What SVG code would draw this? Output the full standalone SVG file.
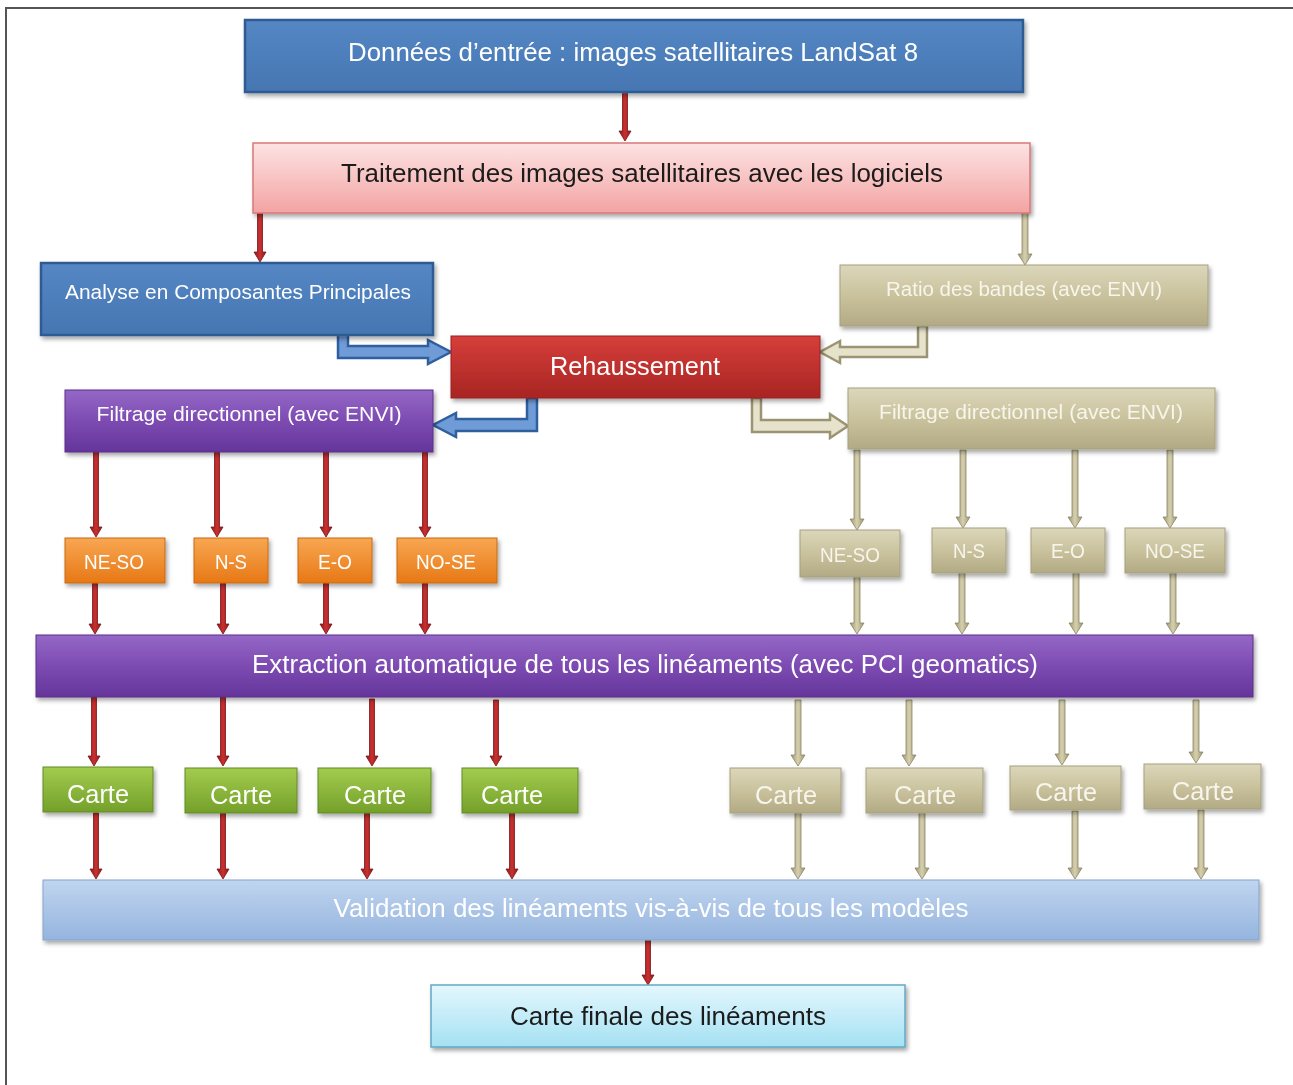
<svg xmlns="http://www.w3.org/2000/svg" width="1293" height="1085" viewBox="0 0 1293 1085">
<defs>
  <filter id="sh" x="-10%" y="-20%" width="120%" height="150%">
    <feDropShadow dx="2" dy="3" stdDeviation="2" flood-color="#000" flood-opacity="0.35"/>
  </filter>
  <linearGradient id="gBlue" x1="0" y1="0" x2="0" y2="1"><stop offset="0" stop-color="#5487c4"/><stop offset="1" stop-color="#4676b2"/></linearGradient>
  <linearGradient id="gPink" x1="0" y1="0" x2="0" y2="1"><stop offset="0" stop-color="#fde3e3"/><stop offset="1" stop-color="#f3a3a3"/></linearGradient>
  <linearGradient id="gKhaki" x1="0" y1="0" x2="0" y2="1"><stop offset="0" stop-color="#dcd7bb"/><stop offset="0.5" stop-color="#c9c29d"/><stop offset="1" stop-color="#b1aa84"/></linearGradient>
  <linearGradient id="gRed" x1="0" y1="0" x2="0" y2="1"><stop offset="0" stop-color="#d63e3a"/><stop offset="1" stop-color="#a82523"/></linearGradient>
  <linearGradient id="gPurple" x1="0" y1="0" x2="0" y2="1"><stop offset="0" stop-color="#9468c6"/><stop offset="0.5" stop-color="#7d4bb2"/><stop offset="1" stop-color="#64359a"/></linearGradient>
  <linearGradient id="gOrange" x1="0" y1="0" x2="0" y2="1"><stop offset="0" stop-color="#f8a752"/><stop offset="1" stop-color="#e77815"/></linearGradient>
  <linearGradient id="gGreen" x1="0" y1="0" x2="0" y2="1"><stop offset="0" stop-color="#a3cc4e"/><stop offset="1" stop-color="#74a02a"/></linearGradient>
  <linearGradient id="gVal" x1="0" y1="0" x2="0" y2="1"><stop offset="0" stop-color="#c0d5ef"/><stop offset="1" stop-color="#95b4de"/></linearGradient>
  <linearGradient id="gFinal" x1="0" y1="0" x2="0" y2="1"><stop offset="0" stop-color="#e4f7fd"/><stop offset="1" stop-color="#a4e1f3"/></linearGradient>
  <linearGradient id="gRedArr" x1="0" y1="0" x2="1" y2="0"><stop offset="0" stop-color="#8e1a1a"/><stop offset="0.5" stop-color="#c93030"/><stop offset="1" stop-color="#8e1a1a"/></linearGradient>
  <linearGradient id="gKhArr" x1="0" y1="0" x2="1" y2="0"><stop offset="0" stop-color="#9c966f"/><stop offset="0.5" stop-color="#d6d0b0"/><stop offset="1" stop-color="#9c966f"/></linearGradient>
</defs>
<style>
  text { font-family: "Liberation Sans", Arial, sans-serif; text-anchor: middle; }
  .w { fill: #ffffff; }
  .kt { fill: #f7f5ec; }
  .d { fill: #1a1a1a; }
  .big { font-size: 26px; }
  .mid { font-size: 20.5px; }
  .box { filter: url(#sh); }
  .blue { fill: url(#gBlue); stroke: #2f5c92; stroke-width: 2.5; }
  .pink { fill: url(#gPink); stroke: #d87878; stroke-width: 1.5; }
  .khaki { fill: url(#gKhaki); stroke: #a6a07c; stroke-width: 1; }
  .red { fill: url(#gRed); stroke: #9a2020; stroke-width: 1; }
  .purple { fill: url(#gPurple); stroke: #5a2e8a; stroke-width: 1; }
  .orange { fill: url(#gOrange); stroke: #c8680f; stroke-width: 1; }
  .green { fill: url(#gGreen); stroke: #62892a; stroke-width: 1; }
  .val { fill: url(#gVal); stroke: #84a3cc; stroke-width: 1; }
  .final { fill: url(#gFinal); stroke: #62a8c4; stroke-width: 1.5; }
  .ra { fill: url(#gRedArr); stroke: #7a1515; stroke-width: 0.8; }
  .ka { fill: url(#gKhArr); stroke: #8a8563; stroke-width: 0.8; }
  .ba { fill: #6f9bd6; stroke: #2f5f9e; stroke-width: 2.5; }
  .kb { fill: #e6e2cc; stroke: #9a9472; stroke-width: 2.5; }
</style>

<rect x="6" y="8" width="1300" height="1100" fill="#ffffff" stroke="#555555" stroke-width="2"/>

<g id="connectors">
  <!-- red arrows -->
  <path class="ra" d="M622.5 92 H627.5 V131 H631 L625 141 L619 131 H622.5 Z"/>
  <path class="ra" d="M257.5 213 H262.5 V252 H266 L260 262 L254 252 H257.5 Z"/>
  <path class="ra" d="M93.5 452 H98.5 V527 H102 L96 537 L90 527 H93.5 Z"/>
  <path class="ra" d="M214.5 452 H219.5 V527 H223 L217 537 L211 527 H214.5 Z"/>
  <path class="ra" d="M323.5 452 H328.5 V527 H332 L326 537 L320 527 H323.5 Z"/>
  <path class="ra" d="M422.5 452 H427.5 V527 H431 L425 537 L419 527 H422.5 Z"/>
  <path class="ra" d="M92.5 583 H97.5 V624 H101 L95 634 L89 624 H92.5 Z"/>
  <path class="ra" d="M220.5 583 H225.5 V624 H229 L223 634 L217 624 H220.5 Z"/>
  <path class="ra" d="M323.5 583 H328.5 V624 H332 L326 634 L320 624 H323.5 Z"/>
  <path class="ra" d="M422.5 583 H427.5 V624 H431 L425 634 L419 624 H422.5 Z"/>
  <path class="ra" d="M91.5 697 H96.5 V756 H100 L94 766 L88 756 H91.5 Z"/>
  <path class="ra" d="M220.5 697 H225.5 V756 H229 L223 766 L217 756 H220.5 Z"/>
  <path class="ra" d="M369.5 699 H374.5 V756 H378 L372 766 L366 756 H369.5 Z"/>
  <path class="ra" d="M493.5 700 H498.5 V756 H502 L496 766 L490 756 H493.5 Z"/>
  <path class="ra" d="M93.5 813 H98.5 V869 H102 L96 879 L90 869 H93.5 Z"/>
  <path class="ra" d="M220.5 813 H225.5 V869 H229 L223 879 L217 869 H220.5 Z"/>
  <path class="ra" d="M364.5 813 H369.5 V869 H373 L367 879 L361 869 H364.5 Z"/>
  <path class="ra" d="M509.5 813 H514.5 V869 H518 L512 879 L506 869 H509.5 Z"/>
  <path class="ra" d="M645.5 940 H650.5 V975 H654 L648 985 L642 975 H645.5 Z"/>
  <!-- khaki arrows -->
  <path class="ka" d="M1022 213 H1028 V254 H1032 L1025 265 L1018 254 H1022 Z"/>
  <path class="ka" d="M854 450 H860 V519 H864 L857 530 L850 519 H854 Z"/>
  <path class="ka" d="M960 450 H966 V517 H970 L963 528 L956 517 H960 Z"/>
  <path class="ka" d="M1072 450 H1078 V517 H1082 L1075 528 L1068 517 H1072 Z"/>
  <path class="ka" d="M1167 450 H1173 V517 H1177 L1170 528 L1163 517 H1167 Z"/>
  <path class="ka" d="M854 577 H860 V623 H864 L857 634 L850 623 H854 Z"/>
  <path class="ka" d="M959 573 H965 V623 H969 L962 634 L955 623 H959 Z"/>
  <path class="ka" d="M1073 573 H1079 V623 H1083 L1076 634 L1069 623 H1073 Z"/>
  <path class="ka" d="M1170 573 H1176 V623 H1180 L1173 634 L1166 623 H1170 Z"/>
  <path class="ka" d="M795 700 H801 V755 H805 L798 766 L791 755 H795 Z"/>
  <path class="ka" d="M906 700 H912 V755 H916 L909 766 L902 755 H906 Z"/>
  <path class="ka" d="M1059 700 H1065 V754 H1069 L1062 765 L1055 754 H1059 Z"/>
  <path class="ka" d="M1193 700 H1199 V752 H1203 L1196 763 L1189 752 H1193 Z"/>
  <path class="ka" d="M795 813 H801 V868 H805 L798 879 L791 868 H795 Z"/>
  <path class="ka" d="M919 813 H925 V868 H929 L922 879 L915 868 H919 Z"/>
  <path class="ka" d="M1072 811 H1078 V868 H1082 L1075 879 L1068 868 H1072 Z"/>
  <path class="ka" d="M1198 810 H1204 V868 H1208 L1201 879 L1194 868 H1198 Z"/>
  <!-- elbow arrows -->
  <path class="ba" d="M338 324 H348 V346 H428 V340 L451 352 L428 364 V358 H338 Z"/>
  <path class="ba" d="M537 398 V431 H456 V437 L433 425 L456 413 V419 H527 V398 Z"/>
  <path class="kb" d="M927 326 V357 H840 V363 L820 352 L840 341 V347 H918 V326 Z"/>
  <path class="kb" d="M752 398 H761 V420 H830 V414 L848 426 L830 438 V432 H752 Z"/>
</g>

<g id="n-input" class="box"><rect class="blue" x="245" y="20" width="778" height="72"/>
  <text class="w big" x="633" y="61" textLength="570" lengthAdjust="spacingAndGlyphs">Données d’entrée : images satellitaires LandSat 8</text></g>
<g id="n-traitement" class="box"><rect class="pink" x="253" y="143" width="777" height="70"/>
  <text class="d big" x="642" y="182" textLength="602" lengthAdjust="spacingAndGlyphs">Traitement des images satellitaires avec les logiciels</text></g>
<g id="n-acp" class="box"><rect class="blue" x="41" y="263" width="392" height="72"/>
  <text class="w mid" x="238" y="299" textLength="346" lengthAdjust="spacingAndGlyphs">Analyse en Composantes Principales</text></g>
<g id="n-ratio" class="box"><rect class="khaki" x="840" y="265" width="368" height="61"/>
  <text class="kt mid" x="1024" y="296" textLength="276" lengthAdjust="spacingAndGlyphs">Ratio des bandes (avec ENVI)</text></g>
<g id="n-rehaussement" class="box"><rect class="red" x="451" y="336" width="369" height="62"/>
  <text class="w big" x="635" y="375" textLength="170" lengthAdjust="spacingAndGlyphs">Rehaussement</text></g>
<g id="n-filtrage-left" class="box"><rect class="purple" x="65" y="390" width="368" height="62"/>
  <text class="w mid" x="249" y="421" textLength="305" lengthAdjust="spacingAndGlyphs">Filtrage directionnel (avec ENVI)</text></g>
<g id="n-filtrage-right" class="box"><rect class="khaki" x="848" y="388" width="367" height="61"/>
  <text class="kt mid" x="1031" y="419" textLength="304" lengthAdjust="spacingAndGlyphs">Filtrage directionnel (avec ENVI)</text></g>

<g id="n-l-neso" class="box"><rect class="orange" x="65" y="538" width="100" height="45"/>
  <text class="w mid" x="114" y="569" textLength="60" lengthAdjust="spacingAndGlyphs">NE-SO</text></g>
<g id="n-l-ns" class="box"><rect class="orange" x="194" y="538" width="74" height="45"/>
  <text class="w mid" x="231" y="569" textLength="32" lengthAdjust="spacingAndGlyphs">N-S</text></g>
<g id="n-l-eo" class="box"><rect class="orange" x="298" y="538" width="74" height="45"/>
  <text class="w mid" x="335" y="569" textLength="34" lengthAdjust="spacingAndGlyphs">E-O</text></g>
<g id="n-l-nose" class="box"><rect class="orange" x="397" y="538" width="100" height="45"/>
  <text class="w mid" x="446" y="569" textLength="60" lengthAdjust="spacingAndGlyphs">NO-SE</text></g>

<g id="n-r-neso" class="box"><rect class="khaki" x="800" y="530" width="100" height="47"/>
  <text class="kt mid" x="850" y="562" textLength="60" lengthAdjust="spacingAndGlyphs">NE-SO</text></g>
<g id="n-r-ns" class="box"><rect class="khaki" x="932" y="528" width="74" height="45"/>
  <text class="kt mid" x="969" y="558" textLength="32" lengthAdjust="spacingAndGlyphs">N-S</text></g>
<g id="n-r-eo" class="box"><rect class="khaki" x="1031" y="528" width="74" height="45"/>
  <text class="kt mid" x="1068" y="558" textLength="34" lengthAdjust="spacingAndGlyphs">E-O</text></g>
<g id="n-r-nose" class="box"><rect class="khaki" x="1125" y="528" width="100" height="45"/>
  <text class="kt mid" x="1175" y="558" textLength="60" lengthAdjust="spacingAndGlyphs">NO-SE</text></g>

<g id="n-extraction" class="box"><rect class="purple" x="36" y="635" width="1217" height="62"/>
  <text class="w big" x="645" y="673" textLength="786" lengthAdjust="spacingAndGlyphs">Extraction automatique de tous les linéaments (avec PCI geomatics)</text></g>

<g id="n-g-carte1" class="box"><rect class="green" x="43" y="767" width="110" height="45"/>
  <text class="w big" x="98" y="803" textLength="62" lengthAdjust="spacingAndGlyphs">Carte</text></g>
<g id="n-g-carte2" class="box"><rect class="green" x="185" y="768" width="112" height="45"/>
  <text class="w big" x="241" y="804" textLength="62" lengthAdjust="spacingAndGlyphs">Carte</text></g>
<g id="n-g-carte3" class="box"><rect class="green" x="318" y="768" width="113" height="45"/>
  <text class="w big" x="375" y="804" textLength="62" lengthAdjust="spacingAndGlyphs">Carte</text></g>
<g id="n-g-carte4" class="box"><rect class="green" x="462" y="768" width="116" height="45"/>
  <text class="w big" x="512" y="804" textLength="62" lengthAdjust="spacingAndGlyphs">Carte</text></g>

<g id="n-k-carte1" class="box"><rect class="khaki" x="730" y="768" width="111" height="45"/>
  <text class="kt big" x="786" y="804" textLength="62" lengthAdjust="spacingAndGlyphs">Carte</text></g>
<g id="n-k-carte2" class="box"><rect class="khaki" x="866" y="768" width="117" height="45"/>
  <text class="kt big" x="925" y="804" textLength="62" lengthAdjust="spacingAndGlyphs">Carte</text></g>
<g id="n-k-carte3" class="box"><rect class="khaki" x="1010" y="766" width="111" height="44"/>
  <text class="kt big" x="1066" y="801" textLength="62" lengthAdjust="spacingAndGlyphs">Carte</text></g>
<g id="n-k-carte4" class="box"><rect class="khaki" x="1144" y="764" width="117" height="45"/>
  <text class="kt big" x="1203" y="800" textLength="62" lengthAdjust="spacingAndGlyphs">Carte</text></g>

<g id="n-validation" class="box"><rect class="val" x="43" y="880" width="1216" height="60"/>
  <text class="w big" x="651" y="917" textLength="635" lengthAdjust="spacingAndGlyphs">Validation des linéaments vis-à-vis de tous les modèles</text></g>
<g id="n-final" class="box"><rect class="final" x="431" y="985" width="474" height="62"/>
  <text class="d big" x="668" y="1025" textLength="316" lengthAdjust="spacingAndGlyphs">Carte finale des linéaments</text></g>
</svg>
